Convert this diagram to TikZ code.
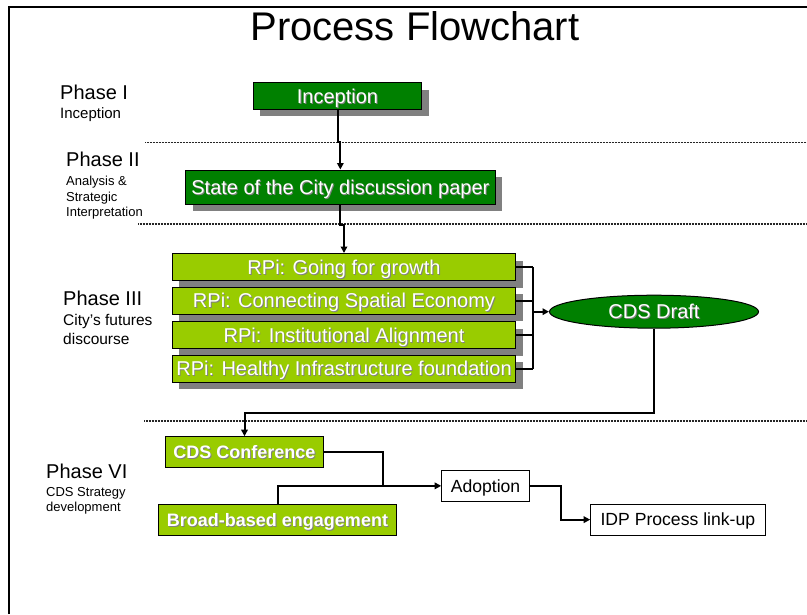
\documentclass[tikz,border=0pt]{standalone}
\usepackage{fontspec}
\setmainfont{Liberation Sans}
\usetikzlibrary{shapes.geometric,shadows,arrows.meta}
\definecolor{dkgreen}{HTML}{008000}
\definecolor{ltgreen}{HTML}{99CC00}
\definecolor{shgray}{HTML}{808080}
\newcommand\shd[1]{\rlap{\kern0.9pt\raisebox{-0.9pt}[0pt][0pt]{\textcolor{black!50}{#1}}}#1}
\tikzset{
 boxsh/.style={draw=black, line width=1pt, drop shadow={shadow xshift=7pt,shadow yshift=-7pt,fill=shgray,opacity=1,draw=none}, inner sep=0, text=white, font=\fontsize{20}{24}\selectfont, text height=14.3pt, text depth=0pt},
 darkbox/.style={boxsh, fill=dkgreen},
 rpibox/.style={boxsh, fill=ltgreen, minimum width=343.4pt, minimum height=27pt},
 litebox/.style={draw=black, line width=1pt, fill=ltgreen, inner sep=0, text=white, font=\fontsize{18}{22}\selectfont\bfseries, text height=12.9pt, text depth=0pt},
 whitebox/.style={draw=black, line width=1pt, fill=white, inner sep=0, font=\fontsize{17.6}{21}\selectfont, text height=12.6pt, text depth=0pt},
 conn/.style={line width=2pt, draw=black},
 arr/.style={conn, -{Triangle[length=6.5pt,width=6.5pt]}},
 sepline/.style={line width=1.6pt, draw=black!85, dash pattern=on 1pt off 0.5pt},
 phase/.style={anchor=base west, inner sep=0, font=\fontsize{20}{24}\selectfont},
 desc/.style={anchor=base west, inner sep=0},
}
\begin{document}
\begin{tikzpicture}[x=1pt,y=-1pt]
\useasboundingbox (0,0) rectangle (807,614);
% frame
\draw[line width=2pt] (9.3,614) -- (9.3,6.5) -- (807,6.5);
% title
\node[anchor=base, inner sep=0, font=\fontsize{40}{48}\selectfont] (title) at (415,40.7) {Process Flowchart};
% separators
\draw[sepline] (145,142.5) -- (807,142.5);
\draw[sepline] (138,224) -- (807,224);
\draw[sepline] (144,420.7) -- (807,420.7);
% phase labels
\node[phase] (p1) at (60,99) {Phase I};
\node[desc, font=\fontsize{15}{18}\selectfont] (p1a) at (60,118.3) {Inception};
\node[phase] (p2) at (66,166.7) {Phase II};
\node[desc, font=\fontsize{13}{16}\selectfont] (p2a) at (66,185) {Analysis \&};
\node[desc, font=\fontsize{13}{16}\selectfont] (p2b) at (66,201) {Strategic};
\node[desc, font=\fontsize{13}{16}\selectfont] (p2c) at (66,216.7) {Interpretation};
\node[phase] (p3) at (63,305) {Phase III};
\node[desc, font=\fontsize{15.5}{18}\selectfont] (p3a) at (63,325.3) {City's futures};
\node[desc, font=\fontsize{15.5}{18}\selectfont] (p3b) at (63,344) {discourse};
\node[phase] (p6) at (46,478.3) {Phase VI};
\node[desc, font=\fontsize{13}{16}\selectfont] (p6a) at (46,496.7) {CDS Strategy};
\node[desc, font=\fontsize{13}{16}\selectfont] (p6b) at (46,511) {development};
% boxes
\node[darkbox, minimum width=168.4pt, minimum height=26.6pt] (inc) at (337.5,96) {\shd{Inception}};
\node[darkbox, minimum width=309.3pt, minimum height=34pt] (st) at (340.35,187) {\shd{State of the City discussion paper}};
\node[rpibox] (r1) at (344,267) {\shd{RPi: Going for growth}};
\node[rpibox] (r2) at (344,300.8) {\shd{RPi: Connecting Spatial Economy}};
\node[rpibox] (r3) at (344,335) {\shd{RPi: Institutional Alignment}};
\node[rpibox] (r4) at (344,368.7) {\shd{RPi: Healthy Infrastructure foundation}};
\node[ellipse, draw=black, line width=1pt, fill=dkgreen, minimum width=209pt, minimum height=33pt, inner sep=0, text=white, font=\fontsize{20}{24}\selectfont, text height=14.3pt, text depth=0pt] (dr) at (654,311.7) {\shd{CDS Draft}};
\node[litebox, minimum width=158.4pt, minimum height=30.6pt] (conf) at (244.5,452) {\shd{CDS Conference}};
\node[litebox, minimum width=238.4pt, minimum height=30.7pt] (br) at (277.5,519.7) {\shd{Broad-based engagement}};
\node[whitebox, minimum width=87.6pt, minimum height=30.3pt] (ad) at (485.5,485.85) {Adoption};
\node[whitebox, minimum width=174.3pt, minimum height=30.7pt] (idp) at (677.85,519.65) {IDP Process link-up};
% connectors
\draw[arr] (inc.south) -- ++(0,32.5) -| (st.north);
\draw[arr] (st.south) -- ++(0,20) -| (r1.north);
\foreach \i in {1,2,3,4}{\draw[conn] (r\i.east) -- ++(16.6,0) coordinate (b\i);}
\draw[conn] (b1) -- (b4);
\draw[arr] (b1 |- dr.west) -- (dr.west);
\draw[arr] (dr.south) -- ++(0,84.5) -| (conf.north);
\draw[conn] (conf.east) -- ++(59,0) coordinate (cj) -- (cj |- ad.west);
\draw[arr] (br.north) |- (ad.west);
\draw[arr] (ad.east) -- ++(30.7,0) |- (idp.west);
\end{tikzpicture}
\end{document}
